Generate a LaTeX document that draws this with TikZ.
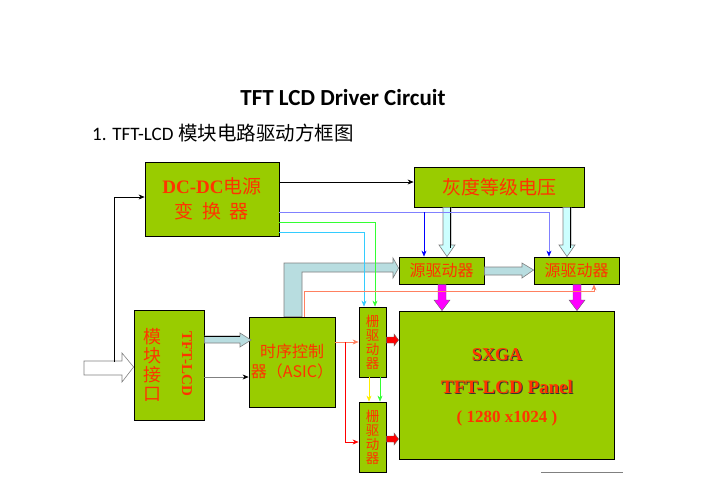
\documentclass[tikz,border=0pt]{standalone}
\usepackage{fontspec}
\setmainfont{Liberation Serif}
\newfontfamily\cjk{Noto Sans CJK SC}
\newfontfamily\calfont{Carlito}
\usetikzlibrary{arrows.meta}
\definecolor{boxgreen}{HTML}{99CC00}
\definecolor{txtred}{HTML}{FF3300}
\definecolor{bigblue}{HTML}{B8DDE0}
\definecolor{lcyan}{HTML}{CCFFFF}
\definecolor{purp}{HTML}{8080FF}
\definecolor{lgreen}{HTML}{33FF33}
\definecolor{lcy}{HTML}{33CCFF}
\definecolor{salmon}{HTML}{FF8060}
\definecolor{yel}{HTML}{FFEE00}
\definecolor{magent}{HTML}{FF00FF}
\definecolor{pured}{HTML}{FF0000}
\definecolor{purblue}{HTML}{0000FF}
\begin{document}
\begin{tikzpicture}[x=1pt,y=-1pt,
  box/.style={draw=black, fill=boxgreen, line width=0.8pt, inner sep=0pt, text=txtred, align=center},
  conn/.style={-{Stealth[length=6pt,width=5pt]}, line width=0.6pt},
  blockarrow/.style={draw=gray, line width=0.6pt},
  lbl/.style={inner sep=0pt, text=txtred, align=center}]
\fill[white] (0,0) rectangle (702,496);
\useasboundingbox (0,0) rectangle (702,496);

% titles
\node[inner sep=0pt, font=\calfont\bfseries\fontsize{23}{26}\selectfont] (title) at (343,98) {TFT LCD Driver Circuit};
\node[inner sep=0pt, anchor=west, font=\fontsize{19}{22}\selectfont] (sub) at (92,133) {{\calfont 1. TFT-LCD} {\cjk\fontsize{19.5}{22}\selectfont 模块电路驱动方框图}};

% boxes
\node[box, minimum width=134, minimum height=74, font=\fontsize{19}{25}\selectfont] (dcdc) at (212,199)
  {{\bfseries DC-DC}{\cjk 电源}\\{\cjk 变\ \ 换\ \ 器}};
\node[box, minimum width=170, minimum height=40, font=\cjk\fontsize{19}{22}\selectfont] (gray) at (499,187) {灰度等级电压};
\node[box, minimum width=85, minimum height=27, font=\cjk\fontsize{16}{18}\selectfont] (src1) at (441.5,270.5) {源驱动器};
\node[box, minimum width=85, minimum height=27, font=\cjk\fontsize{16}{18}\selectfont] (src2) at (576.5,270.5) {源驱动器};
\node[box, minimum width=215, minimum height=148] (panel) at (506.5,385) {};
\node[box, minimum width=27, minimum height=70, font=\cjk\fontsize{13.5}{14}\selectfont] (gate1) at (372.5,342) {栅\\驱\\动\\器};
\node[box, minimum width=27, minimum height=70, font=\cjk\fontsize{13.5}{14}\selectfont] (gate2) at (372.5,437) {栅\\驱\\动\\器};
\node[box, minimum width=86, minimum height=90, font=\cjk\fontsize{16}{20}\selectfont] (timing) at (292,362) {时序控制\\器（ASIC）};
\node[box, minimum width=70, minimum height=110] (module) at (169,365) {};
\node[lbl, font=\cjk\fontsize{18}{19}\selectfont] (modtxt) at (152,365) {模\\块\\接\\口};
\node[lbl, rotate=-90, font=\bfseries\fontsize{15}{17}\selectfont] (modtft) at (187,364) {TFT-LCD};

% panel text
\node[lbl, text=black!80, font=\bfseries\fontsize{18}{20}\selectfont] at (498,356) {SXGA};
\node[lbl, font=\bfseries\fontsize{18}{20}\selectfont] (sxga) at (497,355) {SXGA};
\node[lbl, text=black!80, font=\bfseries\fontsize{19}{20}\selectfont] at (508,388) {TFT-LCD Panel};
\node[lbl, font=\bfseries\fontsize{19}{20}\selectfont] (ptft) at (507,387) {TFT-LCD Panel};
\node[lbl, font=\bfseries\fontsize{17}{20}\selectfont] (pres) at (507,418) {( 1280 x1024 )};
\draw[gray, line width=0.8pt] (541,472) -- (623,472);

% block arrows
% input hollow arrow
\draw[blockarrow, fill=white] (84,361) -- (122,361) -- (122,353) -- (module.west |- 0,367) -- (122,382) -- (122,375) -- (84,375) -- cycle;
% module -> timing
\draw[blockarrow, fill=bigblue] (module.east |- 0,336) -- (240,336) -- (240,333) -- (251,340) -- (240,347) -- (240,343) -- (module.east |- 0,343) -- cycle;
\draw[black, line width=0.6pt] (module.east |- 0,336) -- (240,336);
% timing -> src1 L-shaped
\draw[blockarrow, fill=bigblue] (284,0 |- timing.north) -- (284,263) -- (393,263) -- (393,258) -- (src1.west |- 0,268) -- (393,278) -- (393,272) -- (302,272) -- (302,0 |- timing.north) -- cycle;
% src1 -> src2
\draw[blockarrow, fill=bigblue] (src1.east |- 0,267) -- (522,267) -- (522,263) -- (src2.west |- 0,270) -- (522,278) -- (522,275) -- (src1.east |- 0,275) -- cycle;
% gray -> sources
\draw[blockarrow, fill=lcyan] (443,0 |- gray.south) -- (443,245) -- (439,245) -- (447,0 |- src1.north) -- (455,245) -- (451,245) -- (451,0 |- gray.south) -- cycle;
\draw[black, line width=0.8pt] (450,0 |- gray.south) -- (450,248);
\draw[blockarrow, fill=lcyan] (563,0 |- gray.south) -- (563,245) -- (559,245) -- (567,0 |- src2.north) -- (575,245) -- (571,245) -- (571,0 |- gray.south) -- cycle;
\draw[black, line width=0.8pt] (570,0 |- gray.south) -- (570,248);
% sources -> panel (magenta)
\draw[draw=black!60, line width=0.4pt, fill=magent] (438,0 |- src1.south) -- (438,300) -- (434,300) -- (442,0 |- panel.north) -- (450,300) -- (446,300) -- (446,0 |- src1.south) -- cycle;
\draw[draw=black!60, line width=0.4pt, fill=magent] (573,0 |- src2.south) -- (573,300) -- (569,300) -- (577,0 |- panel.north) -- (585,300) -- (581,300) -- (581,0 |- src2.south) -- cycle;
% gates -> panel (red)
\draw[draw=black!60, line width=0.4pt, fill=pured] (gate1.east |- 0,337) -- (394,337) -- (394,334) -- (panel.west |- 0,340) -- (394,346) -- (394,343) -- (gate1.east |- 0,343) -- cycle;
\draw[draw=black!60, line width=0.4pt, fill=pured] (gate2.east |- 0,436) -- (394,436) -- (394,433) -- (panel.west |- 0,439) -- (394,445) -- (394,442) -- (gate2.east |- 0,442) -- cycle;

% thin connectors
\draw[conn] (dcdc.east |- 0,182) -- (gray.west |- 0,182);
\draw[conn, purp, -{Stealth[length=6pt,width=5pt,color=purblue]}] (dcdc.east |- 0,212) -- (549,212) -- (549,0 |- src2.north);
\draw[conn, purblue] (424,212) -- (424,0 |- src1.north);
\draw[conn, lgreen] (dcdc.east |- 0,222) -- (375,222) -- (375,0 |- gate1.north);
\draw[conn, lcy] (dcdc.east |- 0,232) -- (364,232) -- (364,0 |- gate1.north);
\draw[conn] (114,362) -- (114,197) -- (dcdc.west |- 0,197);
\draw[conn, gray, -{Stealth[length=6pt,width=5pt,color=black]}] (module.east |- 0,377) -- (timing.west |- 0,377);
\draw[conn, salmon] (timing.east |- 0,342) -- (gate1.west |- 0,342);
\draw[conn, pured] (345,342) -- (345,442) -- (gate2.west |- 0,442);
\draw[conn, salmon] (304,0 |- timing.north) -- (304,291) -- (594,291) -- (594,0 |- src2.south);
\draw[conn, yel] (369,0 |- gate1.south) -- (369,0 |- gate2.north);
\draw[conn, lgreen] (380,0 |- gate1.south) -- (380,0 |- gate2.north);
\end{tikzpicture}
\end{document}
